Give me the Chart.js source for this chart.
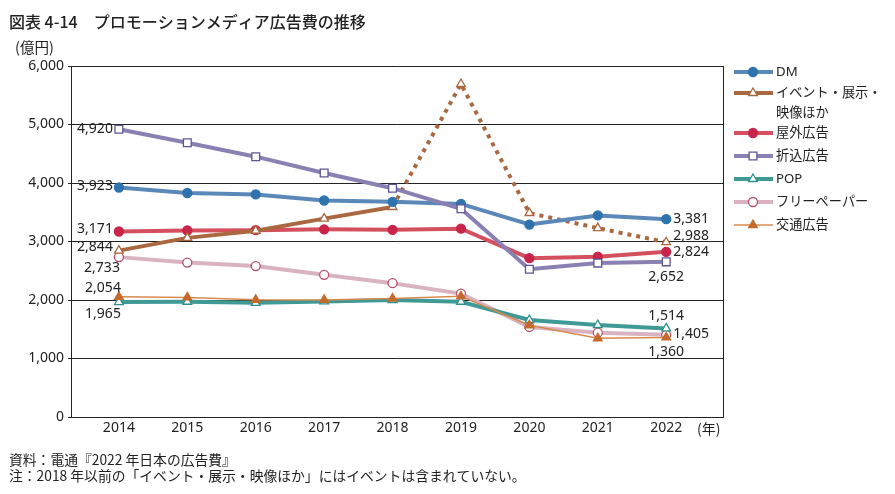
<!DOCTYPE html>
<html><head><meta charset="utf-8">
<script src="https://cdn.jsdelivr.net/npm/chart.js@4"></script>
<style>html,body{margin:0;padding:0;background:#fff}#wrap{width:895px;height:494px;position:relative}</style>
</head><body><div id="wrap"><canvas id="c" width="895" height="494"></canvas></div>
<script>
const years = [2014, 2015, 2016, 2017, 2018, 2019, 2020, 2021, 2022];
const yTicks = [0, 1000, 2000, 3000, 4000, 5000, 6000];
const seriesNames = ["DM", "イベント・展示・\n映像ほか", "屋外広告", "折込広告", "POP", "フリーペーパー", "交通広告"];
const dm        = [3923, 3829, 3804, 3701, 3678, 3642, 3290, 3446, 3381];
const eventEx   = [2844, 3062, 3184, 3391, 3590, 5692, 3487, 3229, 2988];
const outdoor   = [3171, 3188, 3194, 3208, 3199, 3219, 2715, 2740, 2824];
const insert    = [4920, 4687, 4450, 4170, 3911, 3559, 2525, 2631, 2652];
const pop       = [1965, 1970, 1951, 1975, 2000, 1970, 1658, 1573, 1514];
const freePaper = [2733, 2640, 2580, 2430, 2287, 2110, 1539, 1442, 1405];
const transit   = [2054, 2044, 2003, 2002, 2025, 2062, 1568, 1346, 1360];
const title = "図表 4-14　プロモーションメディア広告費の推移";
const unitLabel = "(億円)";
const yearUnit = "(年)";
const notes = ["資料：電通『2022 年日本の広告費』", "注：2018 年以前の「イベント・展示・映像ほか」にはイベントは含まれていない。"];

const FONT = "'Noto Sans', 'Noto Sans CJK JP', sans-serif";
const JFONT = "'Noto Sans CJK JP', 'Noto Sans', sans-serif";
const pts = v => years.map((y, i) => ({x: y, y: v[i]}));

const styles = [
  {line: '#5a88b9', pt: '#2e73ae', ptBorder: '#2e73ae', shape: 'circle', r: 4.5, w: 4, order: 3},
  {line: '#a9683f', pt: '#ffffff', ptBorder: '#a9683f', shape: 'triangle', r: 5, w: 4, order: 4},
  {line: '#d4505f', pt: '#c9244a', ptBorder: '#c9244a', shape: 'circle', r: 4.5, w: 4, order: 5},
  {line: '#8a80b1', pt: '#ffffff', ptBorder: '#5f5598', shape: 'rect', r: 5.5, w: 4, order: 2},
  {line: '#3f9a96', pt: '#ffffff', ptBorder: '#2f8f8c', shape: 'triangle', r: 5, w: 4, order: 6},
  {line: '#d9b3c1', pt: '#ffffff', ptBorder: '#b3506c', shape: 'circle', r: 4.5, w: 4, order: 7},
  {line: '#d88a4e', pt: '#c46b2c', ptBorder: '#c46b2c', shape: 'triangle', r: 5, w: 1.5, order: 1}
];
const values = [dm, eventEx, outdoor, insert, pop, freePaper, transit];

const datasets = values.map((v, i) => {
  const s = styles[i];
  const ds = {
    label: seriesNames[i], data: pts(v), borderColor: s.line, borderWidth: s.w,
    pointStyle: s.shape, pointRadius: s.r, pointHoverRadius: s.r,
    pointBackgroundColor: s.pt, pointBorderColor: s.ptBorder, pointBorderWidth: 1.3,
    tension: 0, order: s.order, fill: false
  };
  if (i === 1) {
    ds.segment = { borderDash: ctx => ctx.p0DataIndex >= 4 ? [4, 5] : undefined };
  }
  return ds;
});

// label specs: [series, yearIndex, dx, dy, align]
const labelSpecs = [
  [3, 0, -6, 0, 'right'], [0, 0, -6, -1, 'right'], [2, 0, -6, -2, 'right'],
  [1, 0, -6, -4, 'right'], [5, 0, 1, 11, 'right'], [6, 0, 2, -9, 'right'], [4, 0, 2, 12, 'right'],
  [0, 8, 7, 0, 'left'], [1, 8, 7, -6, 'left'], [2, 8, 7, 0, 'left'],
  [3, 8, 0, 15, 'center'], [4, 8, 0, -12, 'center'], [5, 8, 7, -1, 'left'], [6, 8, 0, 15, 'center']
];

const fmt = v => v.toLocaleString('en-US');

const deco = {
  id: 'deco',
  afterDraw(chart) {
    const ctx = chart.ctx, ca = chart.chartArea, xs = chart.scales.x, ys = chart.scales.y;
    ctx.save();
    ctx.strokeStyle = '#222'; ctx.lineWidth = 1;
    ctx.beginPath(); ctx.moveTo(Math.round(ca.right) + 0.5, ca.top); ctx.lineTo(Math.round(ca.right) + 0.5, ca.bottom); ctx.stroke();
    ctx.fillStyle = '#222'; ctx.textBaseline = 'middle'; ctx.textAlign = 'left';
    ctx.font = '500 16px ' + JFONT;
    ctx.fillText(title, 9, 22);
    ctx.font = '14.5px ' + JFONT;
    ctx.fillText(unitLabel, 15, 47);
    ctx.font = '14px ' + JFONT;
    ctx.fillText(yearUnit, 697, 429);
    ctx.font = '13.8px ' + JFONT;
    ctx.fillText(notes[0], 9, 460);
    ctx.fillText(notes[1], 9, 476);
    ctx.font = '14px ' + FONT; ctx.fillStyle = '#222';
    labelSpecs.forEach(([si, yi, dx, dy, al]) => {
      const v = values[si][yi];
      const px = xs.getPixelForValue(years[yi]), py = ys.getPixelForValue(v);
      ctx.textAlign = al;
      ctx.fillText(fmt(v), px + dx, py + dy);
    });
    const rows = [72, 93, 133, 156, 179, 202, 225];
    rows.forEach((ry, i) => {
      const s = styles[i];
      ctx.strokeStyle = s.line; ctx.lineWidth = s.w; ctx.setLineDash([]);
      ctx.beginPath(); ctx.moveTo(734, ry); ctx.lineTo(773, ry); ctx.stroke();
      ctx.fillStyle = s.pt; ctx.strokeStyle = s.ptBorder; ctx.lineWidth = 1.3;
      Chart.helpers.drawPoint(ctx, {pointStyle: s.shape, radius: s.r, borderWidth: 1.3}, 753, ry);
      ctx.fillStyle = '#222'; ctx.textAlign = 'left'; ctx.font = '13.2px ' + FONT;
      const lines = seriesNames[i].split('\n');
      lines.forEach((t, k) => ctx.fillText(t, 776, ry + k * 20));
    });
    ctx.restore();
  }
};

new Chart(document.getElementById('c'), {
  type: 'line',
  data: { datasets },
  options: {
    responsive: false, animation: false, devicePixelRatio: 1,
    layout: { padding: { left: 0, top: 66, right: 172, bottom: 0 } },
    plugins: { legend: { display: false }, tooltip: { enabled: false } },
    scales: {
      x: {
        type: 'linear', min: 2013.3, max: 2022.83,
        afterBuildTicks: a => { a.ticks = years.map(v => ({value: v})); },
        afterFit: a => { a.height = 77; },
        grid: { display: false, drawTicks: false },
        border: { display: true, color: '#222', width: 1 },
        ticks: { callback: v => String(v), color: '#222', font: { family: FONT, size: 14 }, padding: 3, maxRotation: 0, autoSkip: false }
      },
      y: {
        min: 0, max: 6000,
        afterBuildTicks: a => { a.ticks = yTicks.map(v => ({value: v})); },
        afterFit: a => { a.width = 71; },
        grid: { color: '#222', lineWidth: 1, drawTicks: true, tickLength: 3 },
        border: { display: true, color: '#222', width: 1 },
        ticks: { callback: v => fmt(v), color: '#222', font: { family: FONT, size: 14 }, padding: 4 }
      }
    }
  },
  plugins: [deco]
});
</script></body></html>
